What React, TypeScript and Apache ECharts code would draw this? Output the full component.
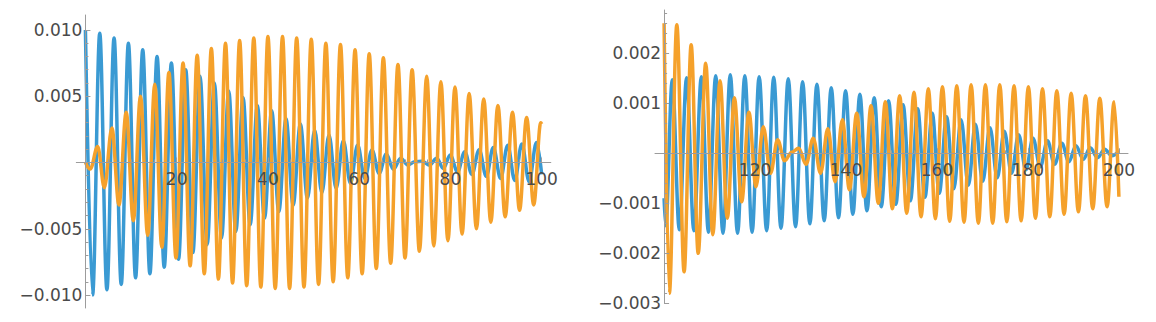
import React, { useEffect, useRef } from 'react';
import * as echarts from 'echarts';

// Extrema (time, value)
const blueLeft: [number, number][] = [
  [0, 0.01], [1.57, -0.01], [3.14, 0.00975], [4.71, -0.0096], [6.28, 0.0094], [7.85, -0.0092],
  [9.42, 0.009], [10.99, -0.0087], [12.56, 0.0085], [14.13, -0.0084], [15.7, 0.008], [17.27, -0.0079],
  [18.84, 0.0075], [20.41, -0.0073], [21.98, 0.007], [23.55, -0.0068], [25.12, 0.0065], [26.69, -0.0062],
  [28.26, 0.006], [29.83, -0.0057], [31.4, 0.0054], [32.97, -0.0052], [34.54, 0.0049], [36.11, -0.0047],
  [37.68, 0.0043], [39.25, -0.0042], [40.82, 0.0039], [42.39, -0.0037], [43.96, 0.0033], [45.53, -0.0032],
  [47.1, 0.0029], [48.67, -0.0027], [50.24, 0.00245], [51.81, -0.00228], [53.38, 0.00207], [54.95, -0.00195],
  [56.52, 0.00165], [58.09, -0.00157], [59.66, 0.00132], [61.23, -0.0012], [62.8, 0.00094], [64.37, -0.00082],
  [65.94, 0.00064], [67.51, -0.00051], [69.08, 0.00032], [70.65, -0.00019], [72.22, 0.00005], [73.79, 0.0001],
  [75.4, -0.0002], [77.0, 0.00032], [78.45, -0.00045], [79.95, 0.00057], [81.55, -0.0007], [83.15, 0.00082],
  [84.7, -0.0009], [86.3, 0.00097], [87.85, -0.00105], [89.4, 0.00113], [91.0, -0.0012], [92.55, 0.0013],
  [94.1, -0.00135], [95.65, 0.0014], [97.25, -0.00145], [98.85, 0.0015], [100, -0.0009],
];

const orangeLeft: [number, number][] = [
  [0, 0], [1.05, -0.0005], [2.69, 0.0012], [4.15, -0.0019], [5.8, 0.0026], [7.35, -0.0032],
  [8.94, 0.0038], [10.5, -0.0044], [12.07, 0.005], [13.65, -0.0055], [15.2, 0.0059], [16.75, -0.0064],
  [18.3, 0.0068], [19.85, -0.0072], [21.4, 0.0075], [22.95, -0.0078], [24.5, 0.0081], [26.05, -0.0084],
  [27.6, 0.0086], [29.15, -0.0088], [30.7, 0.009], [32.25, -0.0091], [33.8, 0.0092], [35.35, -0.0093],
  [36.9, 0.0094], [38.45, -0.0094], [40.0, 0.0095], [41.6, -0.0095], [43.2, 0.0095], [44.75, -0.0095],
  [46.3, 0.0094], [47.9, -0.0094], [49.5, 0.0093], [51.1, -0.0092], [52.7, 0.009], [54.3, -0.009],
  [55.9, 0.0089], [57.5, -0.0087], [59.1, 0.0085], [60.65, -0.0084], [62.2, 0.0082], [63.75, -0.008],
  [65.3, 0.0079], [66.9, -0.0076], [68.5, 0.0074], [70.05, -0.0072], [71.6, 0.007], [73.2, -0.0067],
  [74.8, 0.0065], [76.35, -0.0063], [77.9, 0.0061], [79.45, -0.0059], [81.0, 0.0057], [82.55, -0.0054],
  [84.1, 0.0052], [85.7, -0.005], [87.3, 0.0048], [88.85, -0.0045], [90.4, 0.0043], [92.0, -0.0041],
  [93.6, 0.0038], [95.15, -0.0036], [96.7, 0.0034], [98.25, -0.0032], [99.8, 0.003], [100, 0.0029],
];

const blueRight: [number, number][] = [
  [100, -0.0009], [100.35, -0.00145], [101.8, 0.00147], [103.35, -0.00153], [104.95, 0.00151], [106.55, -0.00155],
  [108.2, 0.00153], [109.75, -0.00158], [111.35, 0.00155], [112.95, -0.0016], [114.55, 0.00157], [116.15, -0.0016],
  [117.75, 0.00155], [119.35, -0.00158], [120.9, 0.00153], [122.55, -0.00155], [124.1, 0.00152], [125.7, -0.0015],
  [127.3, 0.00149], [128.9, -0.00147], [130.45, 0.00143], [132.05, -0.00141], [133.6, 0.00138], [135.2, -0.00135],
  [136.75, 0.00131], [138.35, -0.00129], [139.9, 0.00125], [141.5, -0.00122], [143.05, 0.00118], [144.6, -0.00115],
  [146.2, 0.00111], [147.75, -0.00107], [149.35, 0.00105], [150.95, -0.00102], [152.55, 0.00097], [154.15, -0.00095],
  [155.75, 0.00089], [157.35, -0.00088], [158.95, 0.0008], [160.5, -0.0008], [162.1, 0.00073], [163.7, -0.00071],
  [165.3, 0.00067], [166.9, -0.00064], [168.45, 0.00058], [170.05, -0.00056], [171.65, 0.00051], [173.25, -0.00049],
  [174.8, 0.00044], [176.4, -0.0004], [177.95, 0.00037], [179.55, -0.00033], [181.1, 0.0003], [182.7, -0.00027],
  [184.3, 0.00025], [185.85, -0.00022], [187.45, 0.0002], [189.0, -0.00017], [190.55, 0.00015], [192.15, -0.00012],
  [193.7, 0.00011], [195.3, -0.00009], [196.85, 0.00008], [198.45, -0.00005], [200, 0.00005],
];

const orangeRight: [number, number][] = [
  [100, 0.0026], [101.15, -0.0028], [102.8, 0.00257], [104.4, -0.00237], [105.95, 0.00217], [107.5, -0.002],
  [109.15, 0.0018], [110.7, -0.00163], [112.3, 0.00145], [113.9, -0.0013], [115.45, 0.00111], [117.05, -0.00097],
  [118.65, 0.00082], [120.2, -0.00067], [121.8, 0.00053], [123.4, -0.0004], [124.95, 0.00027], [126.5, -0.00015],
  [128.05, 0.00002], [129.6, 0.0001], [131.2, -0.00022], [132.8, 0.0003], [134.4, -0.0004], [136.0, 0.00049],
  [137.6, -0.00057], [139.2, 0.00067], [140.75, -0.00073], [142.35, 0.0008], [143.95, -0.00087], [145.5, 0.00095],
  [147.1, -0.001], [148.65, 0.00103], [150.2, -0.00111], [151.8, 0.00115], [153.35, -0.0012], [154.95, 0.00122],
  [156.5, -0.00127], [158.1, 0.00129], [159.65, -0.00131], [161.2, 0.00133], [162.8, -0.00136], [164.35, 0.00135],
  [165.95, -0.00138], [167.5, 0.00137], [169.1, -0.0014], [170.65, 0.00137], [172.25, -0.0014], [173.8, 0.00137],
  [175.35, -0.00137], [176.95, 0.00135], [178.5, -0.00135], [180.1, 0.00133], [181.65, -0.0013], [183.2, 0.00129],
  [184.8, -0.00127], [186.35, 0.00125], [187.95, -0.00122], [189.5, 0.0012], [191.1, -0.00117], [192.65, 0.00115],
  [194.25, -0.00111], [195.8, 0.0011], [197.4, -0.00107], [198.95, 0.00103], [200, -0.00087],
];

// Tick values
const leftXMajor = [20, 40, 60, 80, 100];
const leftXMinor = [5, 10, 15, 25, 30, 35, 45, 50, 55, 65, 70, 75, 85, 90, 95];
const leftYMajor = [-0.01, -0.005, 0.005, 0.01];
const leftYMinor = [-0.009, -0.008, -0.007, -0.006, -0.004, -0.003, -0.002, -0.001,
  0.001, 0.002, 0.003, 0.004, 0.006, 0.007, 0.008, 0.009];
const rightXMajor = [120, 140, 160, 180, 200];
const rightXMinor = [105, 110, 115, 125, 130, 135, 145, 150, 155, 165, 170, 175, 185, 190, 195];
const rightYMajor = [-0.003, -0.002, -0.001, 0.001, 0.002];
const rightYMinor = [-0.0028, -0.0026, -0.0024, -0.0022, -0.0018, -0.0016, -0.0014, -0.0012,
  -0.0008, -0.0006, -0.0004, -0.0002, 0.0002, 0.0004, 0.0006, 0.0008,
  0.0012, 0.0014, 0.0016, 0.0018, 0.0022, 0.0024, 0.0026, 0.0028];

// Axis ranges and where the crossing axes sit
const leftXRange = [-2, 102];
const leftYRange = [-0.01098, 0.01113];
const rightXRange = [98, 202];
const rightYRange = [-0.003, 0.002866];
const leftOrigin = [0, 0];
const rightOrigin = [100, 0];

const BLUE = '#3a9ad3';
const ORANGE = '#f5a12b';
const AXIS_COLOR = '#9c9c9c';
const LABEL_COLOR = '#4a4a4a';
const FONT = 'DejaVu Sans';
const FONT_SIZE = 17;

const GRID_L = { left: 76.3, top: 15, width: 474.5, height: 293 };
const GRID_R = { left: 655, top: 10, width: 473, height: 293.3 };

const fmtY = (v: number) => (v < 0 ? '\u2212' : '') + Math.abs(v).toFixed(3);

// pixel offset that moves an edge axis onto the other axis' crossing value
const xOffset = (g: typeof GRID_L, yr: number[], y0: number) => -(g.height * (y0 - yr[0]) / (yr[1] - yr[0]));
const yOffset = (g: typeof GRID_L, xr: number[], x0: number) => -(g.width * (x0 - xr[0]) / (xr[1] - xr[0]));

function xAxis(grid: number, range: number[], ticks: number[], major: boolean, offset: number) {
  return {
    type: 'value', gridIndex: grid, min: range[0], max: range[1], position: 'bottom', offset, z: 10,
    axisLine: {
      show: true, onZero: false,
      lineStyle: { color: major ? AXIS_COLOR : 'rgba(0,0,0,0)', width: 1 },
    },
    axisTick: { show: true, inside: true, length: major ? 5 : 3, customValues: ticks, lineStyle: { color: AXIS_COLOR, width: 1 } },
    axisLabel: {
      show: major, customValues: ticks, margin: 8, color: LABEL_COLOR, fontSize: FONT_SIZE, fontFamily: FONT,
      formatter: (v: number) => String(Math.round(v)),
    },
    splitLine: { show: false }, minorTick: { show: false },
  };
}

function yAxis(grid: number, range: number[], ticks: number[], major: boolean, offset: number) {
  return {
    type: 'value', gridIndex: grid, min: range[0], max: range[1], position: 'left', offset, z: 10,
    axisLine: {
      show: true, onZero: false,
      lineStyle: { color: major ? AXIS_COLOR : 'rgba(0,0,0,0)', width: 1 },
    },
    axisTick: { show: true, inside: true, length: major ? 5 : 3, customValues: ticks, lineStyle: { color: AXIS_COLOR, width: 1 } },
    axisLabel: {
      show: major, customValues: ticks, margin: 3, color: LABEL_COLOR, fontSize: FONT_SIZE, fontFamily: FONT,
      formatter: fmtY,
    },
    splitLine: { show: false }, minorTick: { show: false },
  };
}

function lineSeries(data: [number, number][], color: string, xi: number, yi: number) {
  return {
    type: 'line', data, xAxisIndex: xi, yAxisIndex: yi, z: 2,
    showSymbol: false, symbol: 'none', smooth: 0.36, smoothMonotone: 'x',
    lineStyle: { color, width: 3.5 }, itemStyle: { color },
    emphasis: { disabled: true }, silent: true,
  };
}

export default function App() {
  const ref = useRef<HTMLDivElement>(null);
  useEffect(() => {
    if (!ref.current) return;
    const chart = echarts.init(ref.current, undefined, { renderer: 'svg' });
    const lxo = xOffset(GRID_L, leftYRange, leftOrigin[1]);
    const lyo = yOffset(GRID_L, leftXRange, leftOrigin[0]);
    const rxo = xOffset(GRID_R, rightYRange, rightOrigin[1]);
    const ryo = yOffset(GRID_R, rightXRange, rightOrigin[0]);
    chart.setOption({
      animation: false,
      backgroundColor: '#ffffff',
      grid: [
        { ...GRID_L, containLabel: false, outerBoundsMode: 'none' },
        { ...GRID_R, containLabel: false, outerBoundsMode: 'none' },
      ],
      xAxis: [
        xAxis(0, leftXRange, leftXMajor, true, lxo),
        xAxis(0, leftXRange, leftXMinor, false, lxo),
        xAxis(1, rightXRange, rightXMajor, true, rxo),
        xAxis(1, rightXRange, rightXMinor, false, rxo),
      ],
      yAxis: [
        yAxis(0, leftYRange, leftYMajor, true, lyo),
        yAxis(0, leftYRange, leftYMinor, false, lyo),
        yAxis(1, rightYRange, rightYMajor, true, ryo),
        yAxis(1, rightYRange, rightYMinor, false, ryo),
      ],
      series: [
        lineSeries(blueLeft, BLUE, 0, 0),
        lineSeries(orangeLeft, ORANGE, 0, 0),
        lineSeries(blueRight, BLUE, 2, 2),
        lineSeries(orangeRight, ORANGE, 2, 2),
      ],
    });
    return () => chart.dispose();
  }, []);
  return (
    <div
      ref={ref}
      style={{ position: 'absolute', left: 0, top: 0, width: 1156, height: 322 }}
    />
  );
}
